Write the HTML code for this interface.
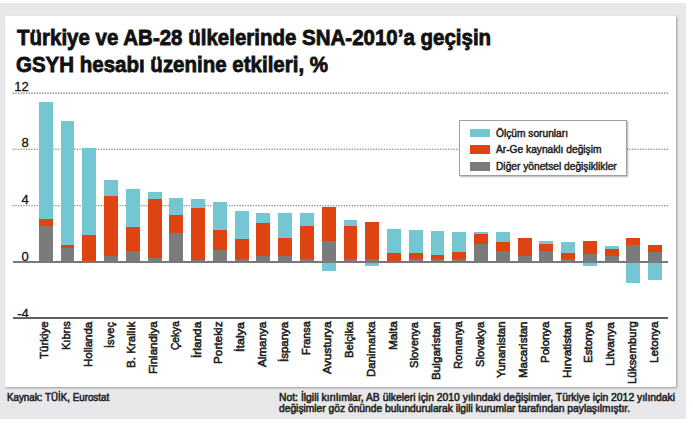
<!DOCTYPE html>
<html><head><meta charset="utf-8">
<style>
html,body{margin:0;padding:0;background:#fff;}
body{width:693px;height:427px;position:relative;overflow:hidden;font-family:"Liberation Sans",sans-serif;}
div,span{position:absolute;}
#frame{left:0;top:3px;width:686px;height:416px;background:#e8e8ea;}
#panel{left:5px;top:16px;width:671px;height:371px;background:#fff;box-shadow:1px 1px 2px rgba(0,0,0,0.35);}
.title{left:17.5px;font-weight:bold;font-size:21.8px;color:#111;white-space:nowrap;transform-origin:0 0;line-height:21.8px;-webkit-text-stroke:0.8px #111;}
.yl{font-size:13px;color:#111;-webkit-text-stroke:0.3px #111;white-space:nowrap;width:30px;text-align:right;line-height:13px;left:-1.3px;}
.xl{font-size:11px;line-height:11px;color:#222;-webkit-text-stroke:0.55px #222;white-space:nowrap;transform-origin:0 0;}
.leg{font-size:10px;line-height:10px;color:#222;-webkit-text-stroke:0.45px #222;white-space:nowrap;left:496.3px;transform-origin:0 0;transform:scaleX(1.02);}
.sw{left:470.2px;width:20.2px;height:8.5px;}
.foot{font-size:11px;line-height:11px;color:#222;-webkit-text-stroke:0.55px #222;white-space:nowrap;transform-origin:0 0;}
</style></head><body>
<div id="frame"></div>
<div id="panel"></div>
<span class="title" style="top:26.6px;left:16.6px;transform:scaleX(0.94)">Türkiye ve AB-28 ülkelerinde SNA-2010’a geçişin</span>
<span class="title" style="top:54.2px;left:16.3px;transform:scaleX(0.94)">GSYH hesabı üzenine etkileri, %</span>
<span class="yl" style="top:79.6px">12</span>
<span class="yl" style="top:136.2px">8</span>
<span class="yl" style="top:193px">4</span>
<span class="yl" style="top:250px">0</span>
<span class="yl" style="top:306.6px">-4</span>
<svg style="position:absolute;left:0;top:0" width="693" height="427"><line x1="12.6" y1="93.1" x2="668" y2="93.1" stroke="#6a6a6a" stroke-width="1.1" stroke-dasharray="1.3 1.37"/><line x1="12.6" y1="149.2" x2="668" y2="149.2" stroke="#6a6a6a" stroke-width="1.1" stroke-dasharray="1.3 1.37"/><line x1="12.6" y1="205.7" x2="668" y2="205.7" stroke="#6a6a6a" stroke-width="1.1" stroke-dasharray="1.3 1.37"/></svg>
<div style="left:38.80px;top:101.90px;width:13.90px;height:159.50px;background:#74c7d2;"></div>
<div style="left:38.80px;top:218.70px;width:13.90px;height:42.70px;background:#dd4411;"></div>
<div style="left:38.80px;top:226.00px;width:13.90px;height:35.40px;background:#7a7b7c;"></div>
<div style="left:60.56px;top:120.80px;width:13.90px;height:140.60px;background:#74c7d2;"></div>
<div style="left:60.56px;top:244.50px;width:13.90px;height:16.90px;background:#dd4411;"></div>
<div style="left:60.56px;top:248.20px;width:13.90px;height:13.20px;background:#7a7b7c;"></div>
<div style="left:82.33px;top:147.70px;width:13.90px;height:113.70px;background:#74c7d2;"></div>
<div style="left:82.33px;top:235.00px;width:13.90px;height:26.40px;background:#dd4411;"></div>
<div style="left:104.09px;top:180.40px;width:13.90px;height:81.00px;background:#74c7d2;"></div>
<div style="left:104.09px;top:195.50px;width:13.90px;height:65.90px;background:#dd4411;"></div>
<div style="left:104.09px;top:255.50px;width:13.90px;height:5.90px;background:#7a7b7c;"></div>
<div style="left:125.86px;top:189.10px;width:13.90px;height:72.30px;background:#74c7d2;"></div>
<div style="left:125.86px;top:227.20px;width:13.90px;height:34.20px;background:#dd4411;"></div>
<div style="left:125.86px;top:250.60px;width:13.90px;height:10.80px;background:#7a7b7c;"></div>
<div style="left:147.62px;top:191.90px;width:13.90px;height:69.50px;background:#74c7d2;"></div>
<div style="left:147.62px;top:198.70px;width:13.90px;height:62.70px;background:#dd4411;"></div>
<div style="left:147.62px;top:258.00px;width:13.90px;height:3.40px;background:#7a7b7c;"></div>
<div style="left:169.38px;top:197.80px;width:13.90px;height:63.60px;background:#74c7d2;"></div>
<div style="left:169.38px;top:214.90px;width:13.90px;height:46.50px;background:#dd4411;"></div>
<div style="left:169.38px;top:233.30px;width:13.90px;height:28.10px;background:#7a7b7c;"></div>
<div style="left:191.15px;top:198.70px;width:13.90px;height:62.70px;background:#74c7d2;"></div>
<div style="left:191.15px;top:208.30px;width:13.90px;height:53.10px;background:#dd4411;"></div>
<div style="left:191.15px;top:259.80px;width:13.90px;height:1.60px;background:#7a7b7c;"></div>
<div style="left:212.91px;top:201.70px;width:13.90px;height:59.70px;background:#74c7d2;"></div>
<div style="left:212.91px;top:229.90px;width:13.90px;height:31.50px;background:#dd4411;"></div>
<div style="left:212.91px;top:250.00px;width:13.90px;height:11.40px;background:#7a7b7c;"></div>
<div style="left:234.68px;top:211.30px;width:13.90px;height:50.10px;background:#74c7d2;"></div>
<div style="left:234.68px;top:239.00px;width:13.90px;height:22.40px;background:#dd4411;"></div>
<div style="left:234.68px;top:259.10px;width:13.90px;height:2.30px;background:#7a7b7c;"></div>
<div style="left:256.44px;top:213.20px;width:13.90px;height:48.20px;background:#74c7d2;"></div>
<div style="left:256.44px;top:222.50px;width:13.90px;height:38.90px;background:#dd4411;"></div>
<div style="left:256.44px;top:256.10px;width:13.90px;height:5.30px;background:#7a7b7c;"></div>
<div style="left:278.20px;top:213.20px;width:13.90px;height:48.20px;background:#74c7d2;"></div>
<div style="left:278.20px;top:237.70px;width:13.90px;height:23.70px;background:#dd4411;"></div>
<div style="left:278.20px;top:256.10px;width:13.90px;height:5.30px;background:#7a7b7c;"></div>
<div style="left:299.97px;top:213.20px;width:13.90px;height:48.20px;background:#74c7d2;"></div>
<div style="left:299.97px;top:225.50px;width:13.90px;height:35.90px;background:#dd4411;"></div>
<div style="left:299.97px;top:259.10px;width:13.90px;height:2.30px;background:#7a7b7c;"></div>
<div style="left:321.73px;top:207.10px;width:13.90px;height:54.30px;background:#dd4411;"></div>
<div style="left:321.73px;top:240.90px;width:13.90px;height:20.50px;background:#7a7b7c;"></div>
<div style="left:321.73px;top:261.40px;width:13.90px;height:10.00px;background:#74c7d2;"></div>
<div style="left:343.50px;top:219.80px;width:13.90px;height:41.60px;background:#74c7d2;"></div>
<div style="left:343.50px;top:225.50px;width:13.90px;height:35.90px;background:#dd4411;"></div>
<div style="left:343.50px;top:259.10px;width:13.90px;height:2.30px;background:#7a7b7c;"></div>
<div style="left:365.26px;top:221.60px;width:13.90px;height:39.80px;background:#dd4411;"></div>
<div style="left:365.26px;top:259.00px;width:13.90px;height:2.40px;background:#7a7b7c;"></div>
<div style="left:365.26px;top:261.40px;width:13.90px;height:4.60px;background:#74c7d2;"></div>
<div style="left:387.02px;top:229.40px;width:13.90px;height:32.00px;background:#74c7d2;"></div>
<div style="left:387.02px;top:253.20px;width:13.90px;height:8.20px;background:#dd4411;"></div>
<div style="left:408.79px;top:230.40px;width:13.90px;height:31.00px;background:#74c7d2;"></div>
<div style="left:408.79px;top:253.20px;width:13.90px;height:8.20px;background:#dd4411;"></div>
<div style="left:408.79px;top:259.00px;width:13.90px;height:2.40px;background:#7a7b7c;"></div>
<div style="left:430.55px;top:231.10px;width:13.90px;height:30.30px;background:#74c7d2;"></div>
<div style="left:430.55px;top:254.90px;width:13.90px;height:6.50px;background:#dd4411;"></div>
<div style="left:430.55px;top:259.30px;width:13.90px;height:2.10px;background:#7a7b7c;"></div>
<div style="left:452.32px;top:232.10px;width:13.90px;height:29.30px;background:#74c7d2;"></div>
<div style="left:452.32px;top:251.70px;width:13.90px;height:9.70px;background:#dd4411;"></div>
<div style="left:452.32px;top:259.00px;width:13.90px;height:2.40px;background:#7a7b7c;"></div>
<div style="left:474.08px;top:232.10px;width:13.90px;height:29.30px;background:#74c7d2;"></div>
<div style="left:474.08px;top:234.00px;width:13.90px;height:27.40px;background:#dd4411;"></div>
<div style="left:474.08px;top:243.90px;width:13.90px;height:17.50px;background:#7a7b7c;"></div>
<div style="left:495.84px;top:232.10px;width:13.90px;height:29.30px;background:#74c7d2;"></div>
<div style="left:495.84px;top:241.90px;width:13.90px;height:19.50px;background:#dd4411;"></div>
<div style="left:495.84px;top:250.80px;width:13.90px;height:10.60px;background:#7a7b7c;"></div>
<div style="left:517.61px;top:237.70px;width:13.90px;height:23.70px;background:#dd4411;"></div>
<div style="left:517.61px;top:255.70px;width:13.90px;height:5.70px;background:#7a7b7c;"></div>
<div style="left:539.37px;top:240.90px;width:13.90px;height:20.50px;background:#74c7d2;"></div>
<div style="left:539.37px;top:243.90px;width:13.90px;height:17.50px;background:#dd4411;"></div>
<div style="left:539.37px;top:250.80px;width:13.90px;height:10.60px;background:#7a7b7c;"></div>
<div style="left:561.14px;top:241.90px;width:13.90px;height:19.50px;background:#74c7d2;"></div>
<div style="left:561.14px;top:253.20px;width:13.90px;height:8.20px;background:#dd4411;"></div>
<div style="left:561.14px;top:259.10px;width:13.90px;height:2.30px;background:#7a7b7c;"></div>
<div style="left:582.90px;top:240.90px;width:13.90px;height:20.50px;background:#dd4411;"></div>
<div style="left:582.90px;top:254.20px;width:13.90px;height:7.20px;background:#7a7b7c;"></div>
<div style="left:582.90px;top:261.40px;width:13.90px;height:4.60px;background:#74c7d2;"></div>
<div style="left:604.66px;top:246.30px;width:13.90px;height:15.10px;background:#74c7d2;"></div>
<div style="left:604.66px;top:249.30px;width:13.90px;height:12.10px;background:#dd4411;"></div>
<div style="left:604.66px;top:256.10px;width:13.90px;height:5.30px;background:#7a7b7c;"></div>
<div style="left:626.43px;top:237.80px;width:13.90px;height:23.60px;background:#dd4411;"></div>
<div style="left:626.43px;top:244.70px;width:13.90px;height:16.70px;background:#7a7b7c;"></div>
<div style="left:626.43px;top:261.40px;width:13.90px;height:21.40px;background:#74c7d2;"></div>
<div style="left:648.19px;top:244.70px;width:13.90px;height:16.70px;background:#dd4411;"></div>
<div style="left:648.19px;top:252.40px;width:13.90px;height:9.00px;background:#7a7b7c;"></div>
<div style="left:648.19px;top:261.40px;width:13.90px;height:18.30px;background:#74c7d2;"></div>
<div style="left:13px;top:261.4px;width:655px;height:1.4px;background:#787878"></div>
<div style="left:13px;top:317.3px;width:655px;height:1.9px;background:#5c6168"></div>
<div style="left:459px;top:120.2px;width:168px;height:55.8px;background:#fff;border:1px solid #a0a0a0;box-sizing:border-box;box-shadow:1px 1px 1.5px rgba(0,0,0,0.3)"></div>
<div class="sw" style="top:128.6px;background:#74c7d2"></div>
<div class="sw" style="top:145.2px;background:#dd4411"></div>
<div class="sw" style="top:162.1px;background:#7a7b7c"></div>
<span class="leg" style="top:128.8px">Ölçüm sorunları</span>
<span class="leg" style="top:145.2px">Ar-Ge kaynaklı değişim</span>
<span class="leg" style="top:161.6px">Diğer yönetsel değişiklikler</span>
<span class="xl" style="left:39.35px;top:359.20px;transform:rotate(-90deg) scaleX(1.0426)">Türkiye</span>
<span class="xl" style="left:61.11px;top:350.40px;transform:rotate(-90deg) scaleX(1.0023)">Kıbrıs</span>
<span class="xl" style="left:82.88px;top:366.80px;transform:rotate(-90deg) scaleX(1.0409)">Hollanda</span>
<span class="xl" style="left:104.64px;top:347.80px;transform:rotate(-90deg) scaleX(1.0200)">İsveç</span>
<span class="xl" style="left:126.41px;top:368.00px;transform:rotate(-90deg) scaleX(1.0542)">B. Krallık</span>
<span class="xl" style="left:148.17px;top:374.30px;transform:rotate(-90deg) scaleX(1.0510)">Finlandiya</span>
<span class="xl" style="left:169.93px;top:350.40px;transform:rotate(-90deg) scaleX(0.9234)">Çekya</span>
<span class="xl" style="left:191.70px;top:357.90px;transform:rotate(-90deg) scaleX(1.0791)">İrlanda</span>
<span class="xl" style="left:213.46px;top:364.20px;transform:rotate(-90deg) scaleX(1.0717)">Portekiz</span>
<span class="xl" style="left:235.23px;top:351.60px;transform:rotate(-90deg) scaleX(1.1408)">İtalya</span>
<span class="xl" style="left:256.99px;top:366.80px;transform:rotate(-90deg) scaleX(1.0562)">Almanya</span>
<span class="xl" style="left:278.75px;top:361.70px;transform:rotate(-90deg) scaleX(1.0407)">İspanya</span>
<span class="xl" style="left:300.52px;top:355.40px;transform:rotate(-90deg) scaleX(0.9869)">Fransa</span>
<span class="xl" style="left:322.28px;top:374.30px;transform:rotate(-90deg) scaleX(1.0817)">Avusturya</span>
<span class="xl" style="left:344.05px;top:357.90px;transform:rotate(-90deg) scaleX(1.0234)">Belçika</span>
<span class="xl" style="left:365.81px;top:376.90px;transform:rotate(-90deg) scaleX(1.0397)">Danimarka</span>
<span class="xl" style="left:387.57px;top:350.40px;transform:rotate(-90deg) scaleX(1.0704)">Malta</span>
<span class="xl" style="left:409.34px;top:367.50px;transform:rotate(-90deg) scaleX(1.0140)">Slovenya</span>
<span class="xl" style="left:431.10px;top:380.20px;transform:rotate(-90deg) scaleX(1.0645)">Bulgaristan</span>
<span class="xl" style="left:452.87px;top:369.30px;transform:rotate(-90deg) scaleX(1.0132)">Romanya</span>
<span class="xl" style="left:474.63px;top:366.80px;transform:rotate(-90deg) scaleX(1.0125)">Slovakya</span>
<span class="xl" style="left:496.39px;top:378.10px;transform:rotate(-90deg) scaleX(1.0379)">Yunanistan</span>
<span class="xl" style="left:518.16px;top:378.10px;transform:rotate(-90deg) scaleX(1.0502)">Macaristan</span>
<span class="xl" style="left:539.92px;top:363.00px;transform:rotate(-90deg) scaleX(1.0411)">Polonya</span>
<span class="xl" style="left:561.69px;top:378.10px;transform:rotate(-90deg) scaleX(1.0746)">Hırvatistan</span>
<span class="xl" style="left:583.45px;top:363.00px;transform:rotate(-90deg) scaleX(1.0415)">Estonya</span>
<span class="xl" style="left:605.21px;top:365.50px;transform:rotate(-90deg) scaleX(1.0711)">Litvanya</span>
<span class="xl" style="left:626.98px;top:384.40px;transform:rotate(-90deg) scaleX(1.0372)">Lüksemburg</span>
<span class="xl" style="left:648.74px;top:363.00px;transform:rotate(-90deg) scaleX(1.0573)">Letonya</span>
<span class="foot" style="left:6.6px;top:392px;transform:scaleX(0.89)">Kaynak: TÜİK, Eurostat</span>
<span class="foot" style="left:279px;top:392px;transform:scaleX(0.942)">Not: İlgili kırılımlar, AB ülkeleri için 2010 yılındaki değişimler, Türkiye için 2012 yılındaki</span>
<span class="foot" style="left:279px;top:402.7px;transform:scaleX(0.932)">değişimler göz önünde bulundurularak ilgili kurumlar tarafından paylaşılmıştır.</span>
</body></html>
